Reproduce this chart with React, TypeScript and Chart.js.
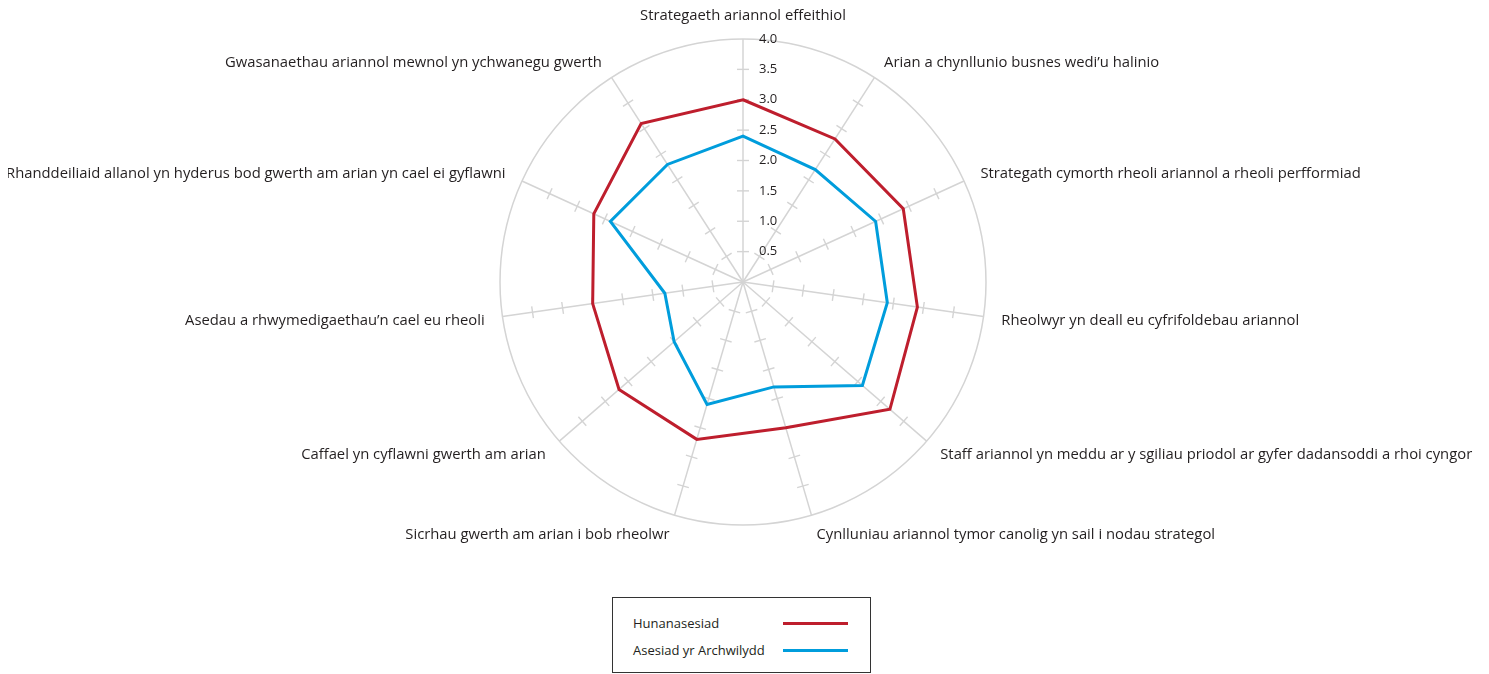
import React, { useEffect, useRef } from "react";
import { Chart, registerables } from "chart.js";

Chart.register(...registerables);

const categories: string[] = [
  "Strategaeth ariannol effeithiol",
  "Arian a chynllunio busnes wedi\u2019u halinio",
  "Strategath cymorth rheoli ariannol a rheoli perfformiad",
  "Rheolwyr yn deall eu cyfrifoldebau ariannol",
  "Staff ariannol yn meddu ar y sgiliau priodol ar gyfer dadansoddi a rhoi cyngor",
  "Cynlluniau ariannol tymor canolig yn sail i nodau strategol",
  "Sicrhau gwerth am arian i bob rheolwr",
  "Caffael yn cyflawni gwerth am arian",
  "Asedau a rhwymedigaethau\u2019n cael eu rheoli",
  "Rhanddeiliaid allanol yn hyderus bod gwerth am arian yn cael ei gyflawni",
  "Gwasanaethau ariannol mewnol yn ychwanegu gwerth",
];

const selfAssessment: number[] = [3.0, 2.8, 2.9, 2.9, 3.2, 2.5, 2.7, 2.7, 2.5, 2.7, 3.1];
const auditorAssessment: number[] = [2.4, 2.2, 2.4, 2.4, 2.6, 1.8, 2.1, 1.5, 1.3, 2.4, 2.3];

const tickValues: number[] = [0.5, 1.0, 1.5, 2.0, 2.5, 3.0, 3.5, 4.0];
const seriesNames: string[] = ["Hunanasesiad", "Asesiad yr Archwilydd"];

const RED = "#be1e2d";
const BLUE = "#009ddc";
const GRID = "#d4d4d4";
const TEXT = "#231f20";
const FONT_FAMILY = '"Open Sans", "Noto Sans", sans-serif';

const radarDecor = {
  id: "radarDecor",
  beforeDatasetsDraw(chart: any) {
    const scale = chart.scales.r;
    const ctx = chart.ctx;
    ctx.save();
    ctx.strokeStyle = GRID;
    ctx.lineWidth = 1.4;
    for (let i = 0; i < categories.length; i++) {
      const a = scale.getIndexAngle(i);
      const px = Math.cos(a);
      const py = Math.sin(a);
      for (const v of tickValues) {
        if (v >= 4) continue;
        const d = scale.getDistanceFromCenterForValue(v);
        const p = scale.getPointPosition(i, d);
        ctx.beginPath();
        ctx.moveTo(p.x - px * 6, p.y - py * 6);
        ctx.lineTo(p.x + px * 6, p.y + py * 6);
        ctx.stroke();
      }
    }
    ctx.restore();
  },
  afterDraw(chart: any) {
    const scale = chart.scales.r;
    const ctx = chart.ctx;
    ctx.save();
    ctx.fillStyle = TEXT;
    ctx.font = `13px ${FONT_FAMILY}`;
    ctx.textBaseline = "middle";
    ctx.textAlign = "left";
    for (const v of tickValues) {
      const d = scale.getDistanceFromCenterForValue(v);
      const p = scale.getPointPosition(0, d);
      ctx.fillText(v.toFixed(1), p.x + 16, p.y);
    }
    ctx.font = `14.8px ${FONT_FAMILY}`;
    for (let i = 0; i < categories.length; i++) {
      const a = scale.getIndexAngle(i);
      const s = Math.sin(a);
      const c = Math.cos(a);
      const p = scale.getPointPosition(i, scale.drawingArea + 18);
      let y = p.y;
      if (c > 0.99) y -= 5;
      else if (c < 0) y += 2;
      ctx.textAlign = Math.abs(s) < 0.01 ? "center" : s > 0 ? "left" : "right";
      ctx.fillText(categories[i], p.x, y);
    }
    ctx.restore();
  },
};

export default function App() {
  const canvasRef = useRef<HTMLCanvasElement | null>(null);

  useEffect(() => {
    if (!canvasRef.current) return;
    const chart = new Chart(canvasRef.current, {
      type: "radar",
      data: {
        labels: categories,
        datasets: [
          {
            label: seriesNames[0],
            data: selfAssessment,
            borderColor: RED,
            backgroundColor: "transparent",
            borderWidth: 3,
            pointRadius: 0,
            fill: false,
          },
          {
            label: seriesNames[1],
            data: auditorAssessment,
            borderColor: BLUE,
            backgroundColor: "transparent",
            borderWidth: 3,
            pointRadius: 0,
            fill: false,
          },
        ],
      },
      options: {
        animation: false,
        responsive: false,
        devicePixelRatio: 1,
        layout: { padding: { left: 0, right: 3, top: 31, bottom: 70 } },
        plugins: { legend: { display: false }, tooltip: { enabled: false } },
        scales: {
          r: {
            min: 0,
            max: 4,
            ticks: { stepSize: 0.5, display: false },
            grid: {
              circular: true,
              lineWidth: 1.5,
              color: (ctx: any) => (ctx.tick && ctx.tick.value === 4 ? GRID : "transparent"),
            },
            angleLines: { color: GRID, lineWidth: 1.5 },
            pointLabels: { display: false },
          },
        },
      },
      plugins: [radarDecor],
    });
    return () => chart.destroy();
  }, []);

  const rowStyle = (top: number): React.CSSProperties => ({
    position: "absolute",
    left: 20,
    top: top - 10,
    height: 20,
    lineHeight: "20px",
    fontSize: 13,
    color: TEXT,
    fontFamily: FONT_FAMILY,
    whiteSpace: "nowrap",
  });
  const lineStyle = (top: number, color: string): React.CSSProperties => ({
    position: "absolute",
    left: 170,
    top: top - 1.5,
    width: 65,
    height: 3,
    background: color,
  });

  return (
    <div style={{ position: "relative", width: 1473, height: 666 }}>
      <canvas ref={canvasRef} width={1473} height={588} style={{ display: "block" }} />
      <div
        style={{
          position: "absolute",
          left: 604,
          top: 589,
          width: 259,
          height: 76,
          boxSizing: "border-box",
          border: "1.5px solid #333",
          background: "#fff",
        }}
      >
        <div style={rowStyle(25)}>{seriesNames[0]}</div>
        <div style={lineStyle(25, RED)} />
        <div style={rowStyle(52)}>{seriesNames[1]}</div>
        <div style={lineStyle(52, BLUE)} />
      </div>
    </div>
  );
}
